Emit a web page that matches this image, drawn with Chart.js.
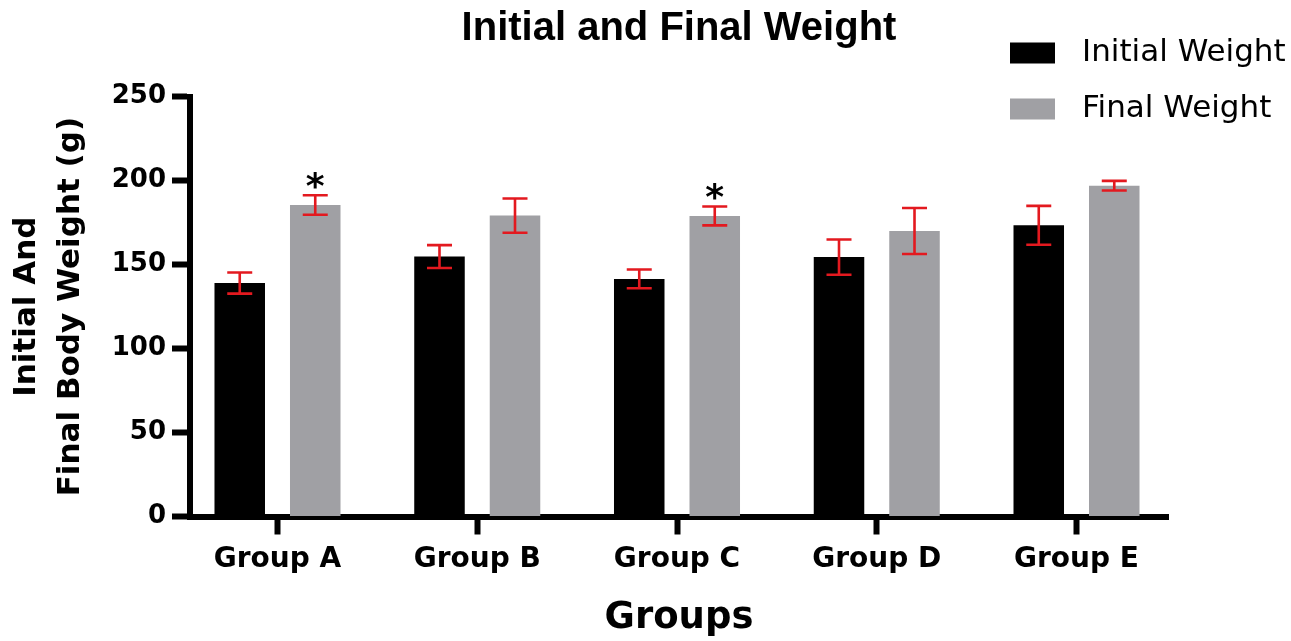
<!DOCTYPE html>
<html>
<head>
<meta charset="utf-8">
<script src="https://cdn.jsdelivr.net/npm/chart.js@4.4.1/dist/chart.umd.min.js"></script>
<style>
  html, body { margin: 0; padding: 0; background: #fff; }
  #caixa { width: 1291px; height: 641px; }
</style>
</head>
<body>
<div id="caixa"><canvas id="pesos"></canvas></div>
<script>
// dados
const groups = ['Group A', 'Group B', 'Group C', 'Group D', 'Group E'];
const initialWeight = [139, 154.8, 141.5, 154.5, 173.4];
const initialSD = [6.3, 6.8, 5.6, 10.5, 11.6];
const finalWeight = [185.5, 179.2, 179, 170, 197];
const finalSD = [5.8, 10.2, 5.6, 13.7, 2.9];
const finalSig = ['*', '', '*', '', ''];
const yTicks = [0, 50, 100, 150, 200, 250];

const fonteEixo = 'DejaVu Sans';
const vermelho = '#e3191f';

function pontos(valores) {
  return valores.map((v, i) => ({ x: i, y: v }));
}

// barras de erro + asteriscos
const errosPlugin = {
  id: 'erros',
  afterDatasetsDraw(chart) {
    const ctx = chart.ctx;
    const y = chart.scales.y;
    chart.data.datasets.forEach((ds, d) => {
      const meta = chart.getDatasetMeta(d);
      meta.data.forEach((bar, i) => {
        const m = ds.data[i].y;
        const topo = y.getPixelForValue(m + ds.sd[i]);
        const base = y.getPixelForValue(m - ds.sd[i]);
        ctx.save();
        ctx.strokeStyle = vermelho;
        ctx.lineWidth = 2.6;
        ctx.beginPath();
        ctx.moveTo(bar.x, topo); ctx.lineTo(bar.x, base);
        ctx.moveTo(bar.x - 12.5, topo); ctx.lineTo(bar.x + 12.5, topo);
        ctx.moveTo(bar.x - 12.5, base); ctx.lineTo(bar.x + 12.5, base);
        ctx.stroke();
        if (ds.sig && ds.sig[i]) {
          ctx.fillStyle = '#000';
          ctx.font = 'bold 36px "' + fonteEixo + '"';
          ctx.textAlign = 'center';
          ctx.textBaseline = 'middle';
          ctx.fillText(ds.sig[i], bar.x, topo - 7);
        }
        ctx.restore();
      });
    });
  }
};

// legenda no canto de cima
const legendaPlugin = {
  id: 'legenda',
  afterDraw(chart) {
    const ctx = chart.ctx;
    const linhas = [53, 109];
    chart.data.datasets.forEach((ds, d) => {
      const cy = linhas[d];
      ctx.save();
      ctx.fillStyle = ds.backgroundColor;
      ctx.fillRect(1010, cy - 10.5, 45, 21);
      ctx.fillStyle = '#000';
      ctx.font = '31px "' + fonteEixo + '"';
      ctx.textAlign = 'left';
      ctx.textBaseline = 'middle';
      ctx.fillText(ds.label, 1082, cy);
      ctx.restore();
    });
  }
};

// posicao das categorias no eixo x (o eixo y fica um pouco para dentro)
const xMin = -0.438;
const xMax = 4.458;

new Chart(document.getElementById('pesos'), {
  type: 'bar',
  data: {
    datasets: [
      {
        label: 'Initial Weight',
        data: pontos(initialWeight),
        sd: initialSD,
        backgroundColor: '#000000',
        borderWidth: 0
      },
      {
        label: 'Final Weight',
        data: pontos(finalWeight),
        sd: finalSD,
        sig: finalSig,
        backgroundColor: '#a0a0a4',
        borderWidth: 0
      }
    ]
  },
  options: {
    responsive: true,
    maintainAspectRatio: false,
    devicePixelRatio: 1,
    animation: false,
    categoryPercentage: 0.756,
    barPercentage: 0.669,
    layout: { padding: { top: 5, right: 123, bottom: 0, left: 0 } },
    scales: {
      x: {
        type: 'linear',
        min: xMin,
        max: xMax,
        offset: false,
        afterFit(s) { s.height = 124.5; },
        afterBuildTicks(s) { s.ticks = groups.map((g, i) => ({ value: i })); },
        border: { display: true, color: '#000', width: 6 },
        grid: { offset: false, drawOnChartArea: false, drawTicks: true, tickLength: 18, tickWidth: 6, tickColor: '#000' },
        ticks: {
          padding: 8,
          color: '#000',
          font: { family: fonteEixo, weight: 'bold', size: 28 },
          callback: (v) => groups[v]
        },
        title: {
          display: true,
          text: 'Groups',
          color: '#000',
          font: { family: fonteEixo, weight: 'bold', size: 37 },
          padding: { top: 0, bottom: 0 }
        }
      },
      y: {
        min: 0,
        max: 250,
        afterFit(s) { s.width = 190; },
        afterBuildTicks(s) { s.ticks = yTicks.map(v => ({ value: v })); },
        border: { display: true, color: '#000', width: 6 },
        grid: { drawOnChartArea: false, drawTicks: true, tickLength: 18, tickWidth: 6, tickColor: '#000' },
        ticks: {
          padding: 6,
          color: '#000',
          font: { family: fonteEixo, weight: 'bold', size: 26 }
        },
        title: {
          display: true,
          text: ['Initial And', 'Final Body Weight (g)'],
          color: '#000',
          font: { family: fonteEixo, weight: 'bold', size: 31, lineHeight: 1.45 },
          padding: { top: 4, bottom: 0 }
        }
      }
    },
    plugins: {
      legend: { display: false },
      tooltip: { enabled: false },
      title: {
        display: true,
        fullSize: false,
        text: 'Initial and Final Weight',
        color: '#000',
        font: { family: 'Liberation Sans', weight: 'bold', size: 40, lineHeight: 1.2 },
        padding: { top: 0, bottom: 43.7 }
      }
    }
  },
  plugins: [errosPlugin, legendaPlugin]
});
</script>
</body>
</html>
